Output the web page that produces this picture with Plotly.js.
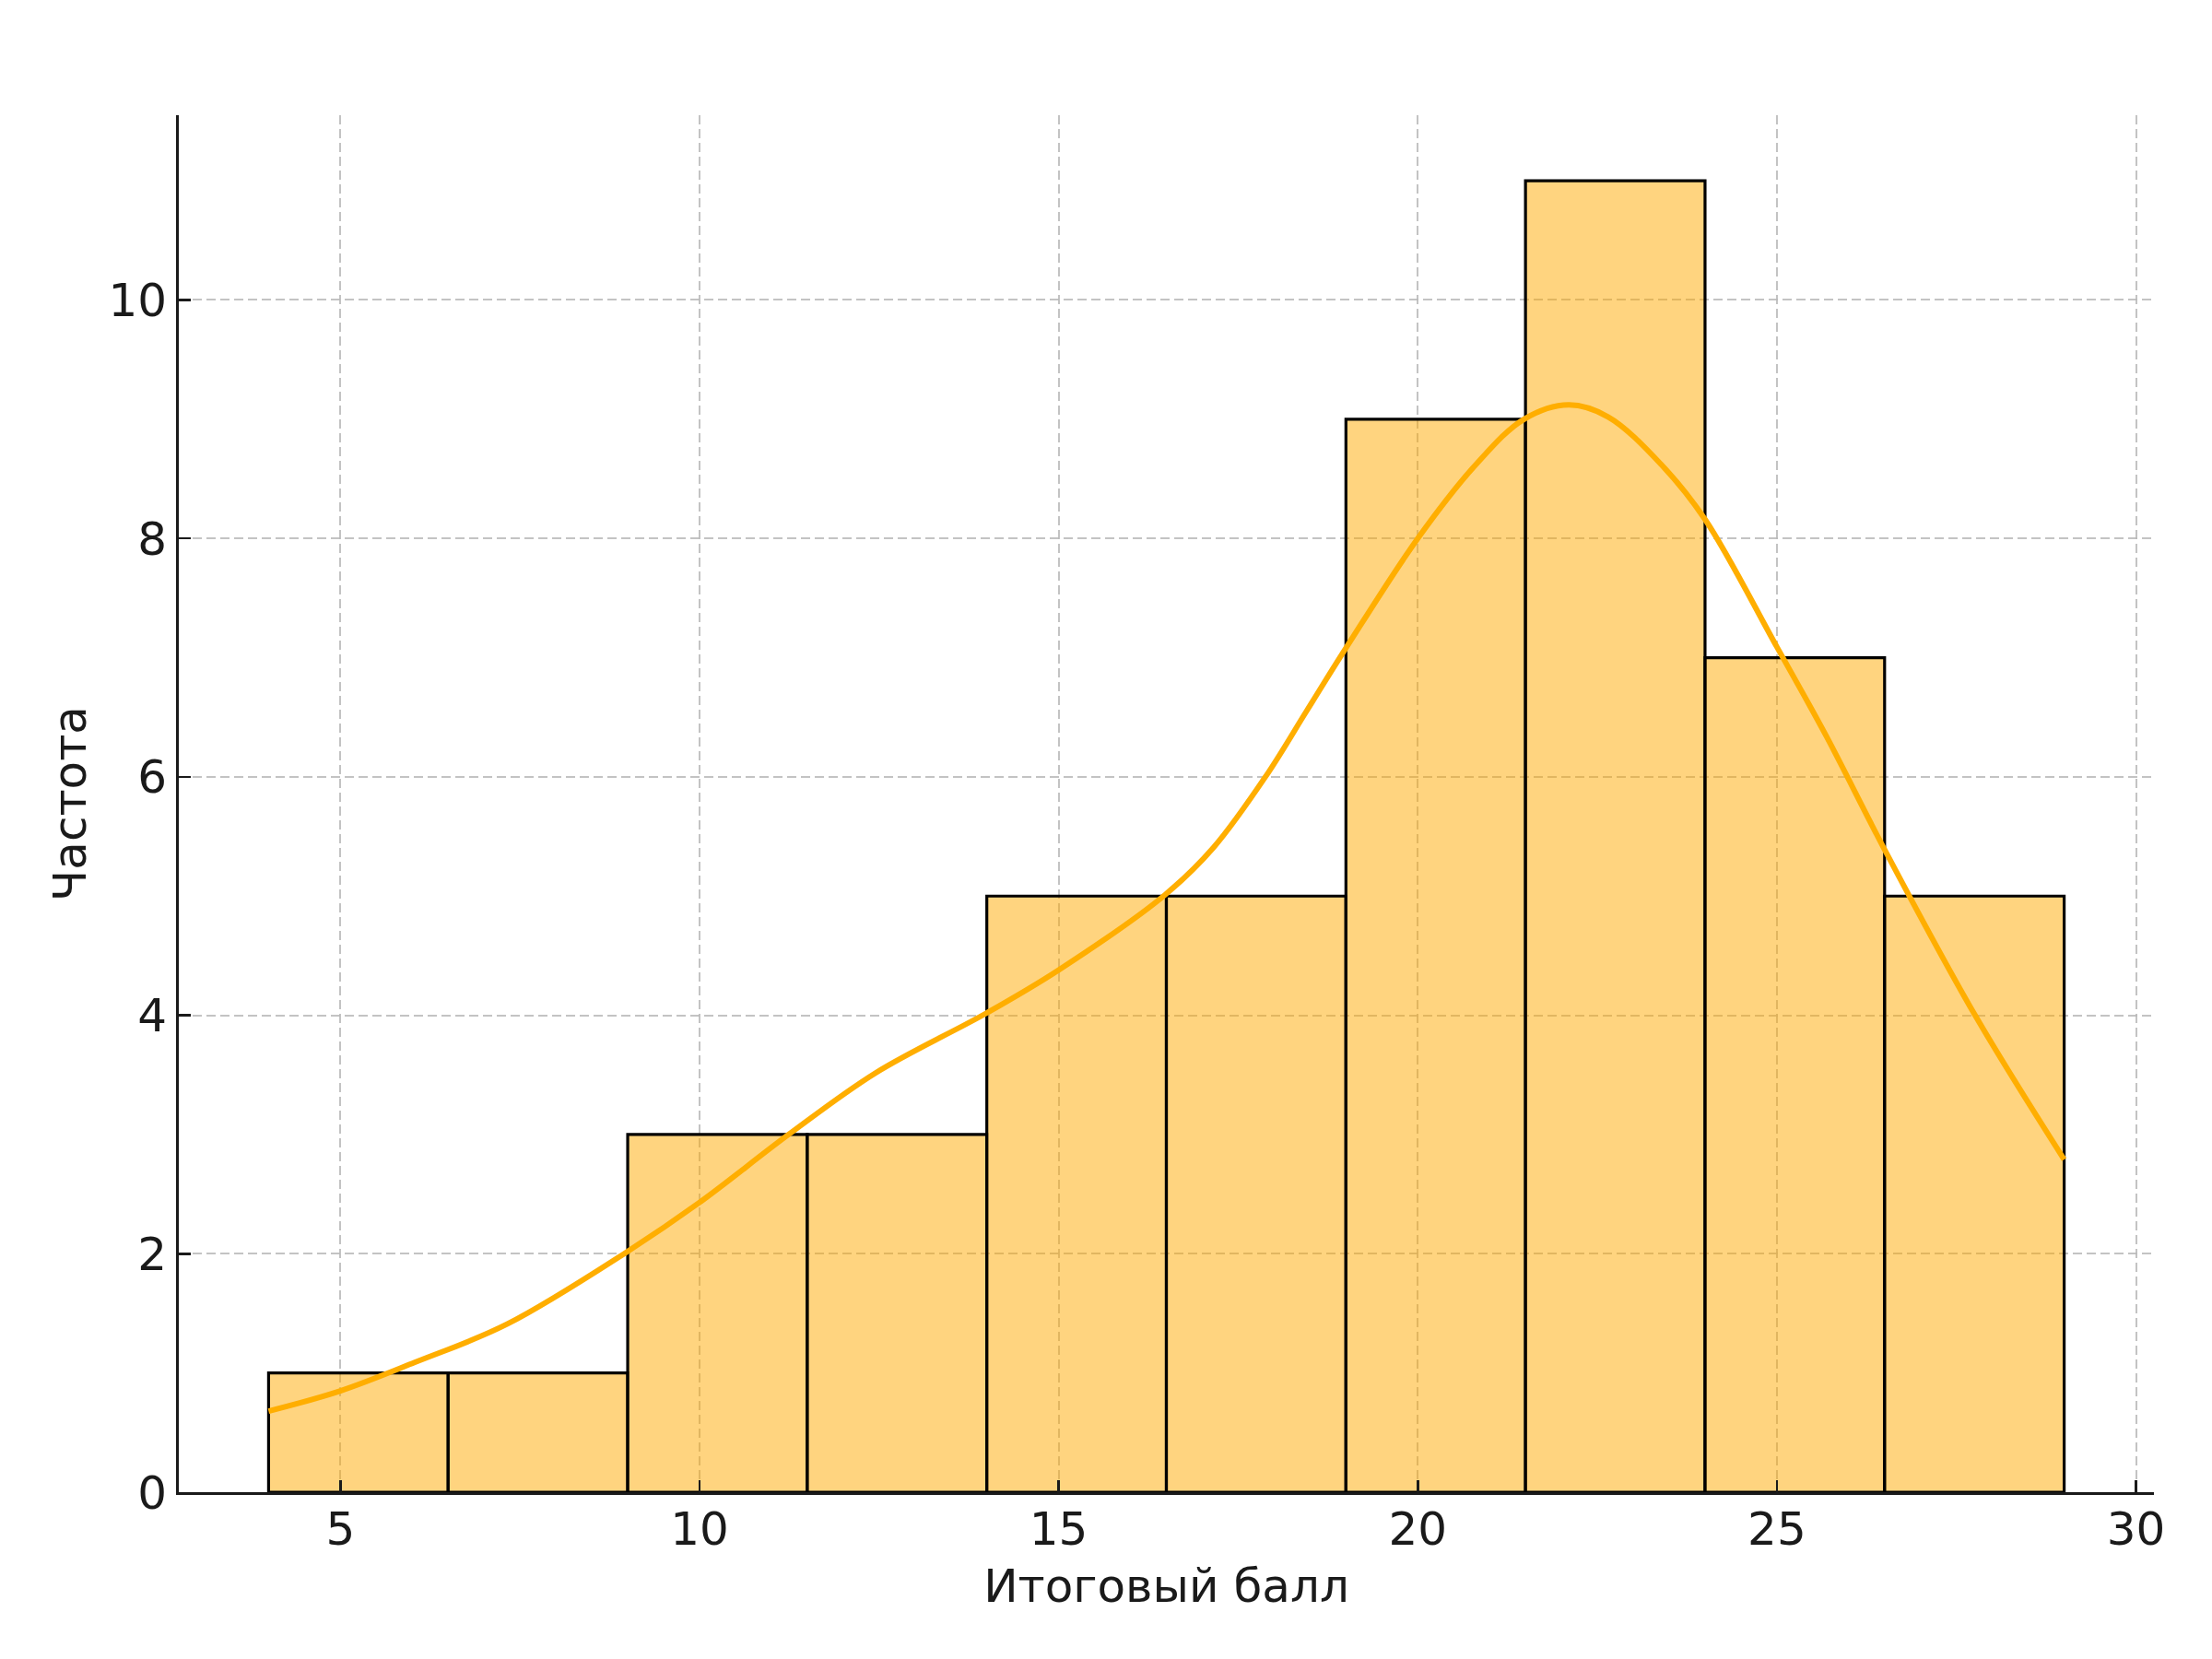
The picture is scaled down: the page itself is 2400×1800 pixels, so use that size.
<!DOCTYPE html>
<html>
<head>
<meta charset="utf-8">
<script src="https://cdn.plot.ly/plotly-3.0.1.min.js"></script>
<style>html,body{margin:0;padding:0;background:#fff;}#chart{width:2400px;height:1800px;}</style>
</head>
<body>
<div id="chart"></div>
<script>
// Histogram bins (edges) and counts
const binEdges = [4, 6.5, 9, 11.5, 14, 16.5, 19, 21.5, 24, 26.5, 29];
const counts = [1, 1, 3, 3, 5, 5, 9, 11, 7, 5];

// KDE curve
const kdeX = [4, 5, 6.04, 7.32, 9, 10, 11.24, 12.46, 14, 15, 16.48, 17.16, 17.89, 18.45, 19, 20, 20.81, 21.48, 22.1, 22.65, 23.39, 24, 25, 25.69, 26.5, 27.76, 29];
const kdeY = [0.68, 0.85, 1.09, 1.41, 2.02, 2.43, 3.0, 3.52, 4.02, 4.38, 5.01, 5.41, 6.01, 6.55, 7.08, 8.0, 8.62, 9.0, 9.12, 9.02, 8.62, 8.16, 7.09, 6.34, 5.39, 4.0, 2.79];

const xTicks = [5, 10, 15, 20, 25, 30];
const yTicks = [0, 2, 4, 6, 8, 10];
const xLabel = "Итоговый балл";
const yLabel = "Частота";

const centers = [], widths = [];
for (let i = 0; i < counts.length; i++) {
  centers.push((binEdges[i] + binEdges[i + 1]) / 2);
  widths.push(binEdges[i + 1] - binEdges[i]);
}

const font = {family: "DejaVu Sans, sans-serif", size: 50, color: "#1a1a1a"};

const traces = [
  {
    type: "bar", x: centers, y: counts, width: widths,
    marker: {color: "rgba(255,170,0,0.5)", line: {color: "#000", width: 3.2}},
    hoverinfo: "skip", showlegend: false
  },
  {
    type: "scatter", mode: "lines", x: kdeX, y: kdeY,
    line: {color: "rgb(255,174,0)", width: 6, shape: "spline", smoothing: 1},
    hoverinfo: "skip", showlegend: false
  }
];

const gridStyle = {showgrid: true, gridcolor: "rgba(185,185,185,0.85)", gridwidth: 2, griddash: "10px,5px"};

const layout = {
  width: 2400, height: 1800,
  paper_bgcolor: "#fff", plot_bgcolor: "#fff",
  margin: {l: 194, r: 63, t: 125, b: 181},
  font: font,
  bargap: 0,
  xaxis: Object.assign({
    range: [2.75, 30.25], tickvals: xTicks, ticktext: xTicks.map(String),
    ticks: "inside", ticklen: 13, tickwidth: 2.5, tickcolor: "#1a1a1a",
    showline: true, linecolor: "#1a1a1a", linewidth: 3,
    zeroline: false, tickfont: font, layer: "above traces",
    ticklabelstandoff: -6,
    title: {text: xLabel, font: font, standoff: 16},
    automargin: false
  }, gridStyle),
  yaxis: Object.assign({
    range: [0, 11.55], tickvals: yTicks, ticktext: yTicks.map(String),
    ticks: "inside", ticklen: 13, tickwidth: 2.5, tickcolor: "#1a1a1a",
    showline: true, linecolor: "#1a1a1a", linewidth: 3,
    zeroline: false, tickfont: font, layer: "above traces",
    title: {text: yLabel, font: font, standoff: 8},
    automargin: false
  }, gridStyle)
};

Plotly.newPlot("chart", traces, layout, {displayModeBar: false, staticPlot: true});
</script>
</body>
</html>
